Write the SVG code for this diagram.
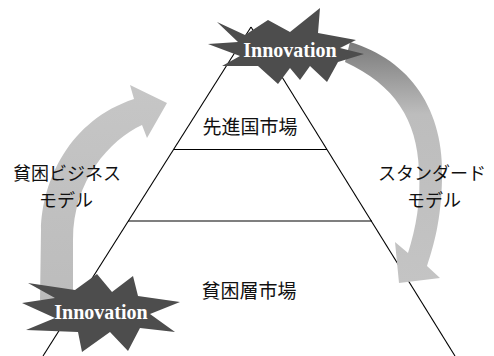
<svg xmlns="http://www.w3.org/2000/svg" width="494" height="356" viewBox="0 0 494 356">
<defs>
<style>
.ln{stroke:#000;stroke-width:1.1;fill:none}
.jp{font-family:"Noto Sans CJK JP","Noto Sans",sans-serif;font-size:19px;fill:#111;text-anchor:middle}
.sm{font-size:18px}
.inv{font-family:"Liberation Serif","Times New Roman",serif;font-size:20px;font-weight:bold;fill:#fff;text-anchor:middle}
.burst{fill:#4d4d4d}
</style>
<linearGradient id="gR" x1="0" y1="0" x2="0" y2="1" gradientUnits="objectBoundingBox">
<stop offset="0" stop-color="#7a7a7a"/>
<stop offset="0.3" stop-color="#bdbdbd"/>
<stop offset="1" stop-color="#c4c4c4"/>
</linearGradient>
<linearGradient id="gL" x1="0" y1="1" x2="0" y2="0">
<stop offset="0" stop-color="#bcbcbc"/>
<stop offset="1" stop-color="#c6c6c6"/>
</linearGradient>
</defs>
<rect width="494" height="356" fill="#fff"/>
<g id="connectors">
<path class="ln" d="M251,27 L43,356"/>
<path class="ln" d="M251,27 L455,356"/>
<path class="ln" d="M174,149.5 L327,149.5"/>
<path class="ln" d="M128,221 L372,221"/>
</g>
<g id="arrow-left">
<path fill="url(#gL)" d="M40,300 L41,230 C42,180 70,120 134,99 L130,85 L167,103 L147,138 L142,125 C110,140 73,180 73,240 L73,300 Z"/>
</g>
<g id="arrow-right">
<path fill="url(#gR)" d="M350,42 C410,60 445,110 442,180 C441,220 434,245 427,266 L440,278 L399,283 L395,242 L408,253 C416,228 421,200 419,170 C417,120 395,85 345,62 Z"/>
</g>
<g id="innovation-top">
<polygon class="burst" points="217,22 245,35 268,20 290,32 320,8 318,33 356,40 340,48 364,54 338,62 327,82 310,66 300,80 290,68 278,84 258,66 222,66 240,56 208,44 238,42"/>
<text class="inv" x="290" y="57">Innovation</text>
</g>
<g id="innovation-bottom">
<polygon class="burst" points="97,274 112,292 133,276 138,296 180,302 150,314 175,332 140,328 128,351 110,332 82,352 78,332 26,330 55,318 22,303 55,298 28,283 75,290"/>
<text class="inv" x="101" y="319">Innovation</text>
</g>
<g id="market-top">
<text class="jp" x="250" y="134">先進国市場</text>
</g>
<g id="market-bottom">
<text class="jp" x="249" y="298">貧困層市場</text>
</g>
<g id="label-left">
<text class="jp sm" x="67" y="180">貧困ビジネス</text>
<text class="jp sm" x="66" y="207">モデル</text>
</g>
<g id="label-right">
<text class="jp sm" x="432" y="180">スタンダード</text>
<text class="jp sm" x="434" y="207">モデル</text>
</g>
</svg>
